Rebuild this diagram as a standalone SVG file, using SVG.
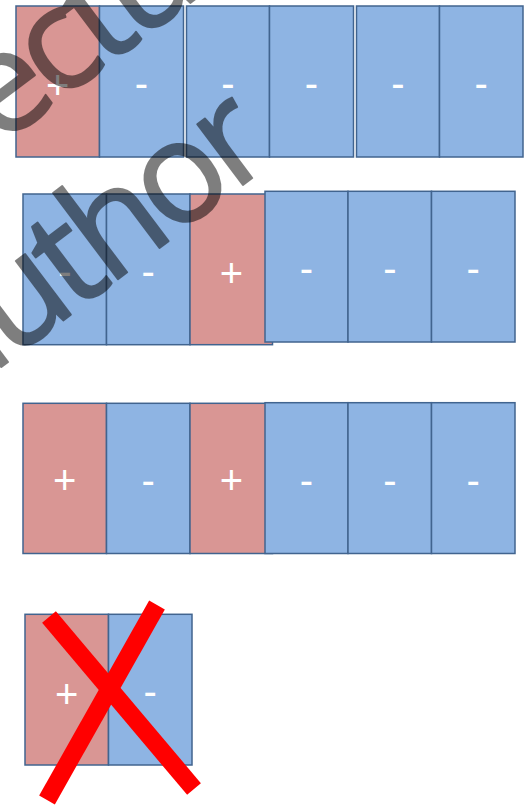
<svg xmlns="http://www.w3.org/2000/svg" width="529" height="808" viewBox="0 0 529 808">
<style>
.b{fill:#8EB4E3;stroke:#41648F;stroke-width:1.5}
.r{fill:#D99694;stroke:#41648F;stroke-width:1.5}
.t{font-family:"Liberation Sans",Arial,sans-serif;font-size:40px;fill:#FFFFFF;text-anchor:middle}
.wm{font-family:"Open Sans","Liberation Sans",sans-serif;font-size:142px;letter-spacing:-8px;fill:#000000;stroke:#000000;stroke-width:2;stroke-linejoin:round}
.x{stroke:#FF0000;stroke-width:18;stroke-linecap:butt}
</style>
<rect width="529" height="808" fill="#FFFFFF"/>
<g id="row1">
<g id="r1a"><rect class="r" x="16" y="6" width="83.5" height="151"/><text class="t" x="57.8" y="99">+</text></g>
<g id="r1b"><rect class="b" x="99.5" y="6" width="84" height="151"/><text class="t" x="141.5" y="97">-</text></g>
<g id="r1c"><rect class="b" x="186.5" y="6" width="83" height="151"/><text class="t" x="228" y="97">-</text></g>
<g id="r1d"><rect class="b" x="269.5" y="6" width="84" height="151"/><text class="t" x="311.5" y="97">-</text></g>
<g id="r1e"><rect class="b" x="356.5" y="6" width="83" height="151"/><text class="t" x="398" y="97">-</text></g>
<g id="r1f"><rect class="b" x="439.5" y="6" width="83.5" height="151"/><text class="t" x="481.2" y="97">-</text></g>
</g>
<g id="row2">
<g id="r2a"><rect class="b" x="23" y="194" width="83.5" height="150.7"/><text class="t" x="64.8" y="285">-</text></g>
<g id="r2b"><rect class="b" x="106.5" y="194" width="83.5" height="150.7"/><text class="t" x="148.2" y="285">-</text></g>
<g id="r2c"><rect class="r" x="190" y="194" width="82.5" height="150.7"/><text class="t" x="231.5" y="287">+</text></g>
<g id="r2d"><rect class="b" x="265" y="191.3" width="83" height="150.7"/><text class="t" x="306.5" y="282">-</text></g>
<g id="r2e"><rect class="b" x="348" y="191.3" width="83.5" height="150.7"/><text class="t" x="389.8" y="282">-</text></g>
<g id="r2f"><rect class="b" x="431.5" y="191.3" width="83.5" height="150.7"/><text class="t" x="473.2" y="282">-</text></g>
</g>
<g id="row3">
<g id="r3a"><rect class="r" x="23" y="403.3" width="83.5" height="150.2"/><text class="t" x="64.8" y="494">+</text></g>
<g id="r3b"><rect class="b" x="106.5" y="403.3" width="83.5" height="150.2"/><text class="t" x="148.2" y="494">-</text></g>
<g id="r3c"><rect class="r" x="190" y="403.3" width="82.5" height="150.2"/><text class="t" x="231.5" y="494">+</text></g>
<g id="r3d"><rect class="b" x="265" y="402.7" width="83" height="150.8"/><text class="t" x="306.5" y="494">-</text></g>
<g id="r3e"><rect class="b" x="348" y="402.7" width="83.5" height="150.8"/><text class="t" x="389.8" y="494">-</text></g>
<g id="r3f"><rect class="b" x="431.5" y="402.7" width="83.5" height="150.8"/><text class="t" x="473.2" y="494">-</text></g>
</g>
<g id="row4">
<g id="r4a"><rect class="r" x="25" y="614.3" width="83.5" height="150.7"/><text class="t" x="66.8" y="708">+</text></g>
<g id="r4b"><rect class="b" x="108.5" y="614.3" width="83.5" height="150.7"/><text class="t" x="150.2" y="705">-</text></g>
</g>
<g id="cross">
<line class="x" x1="49" y1="617" x2="194" y2="789"/>
<line class="x" x1="157" y1="605" x2="47" y2="800"/>
</g>
<g id="watermark" opacity="0.5" transform="translate(0,368) rotate(-37)">
<text class="wm" x="104" y="-177">lecture</text>
<text class="wm" x="342" y="0" text-anchor="end">author</text>
</g>
</svg>
